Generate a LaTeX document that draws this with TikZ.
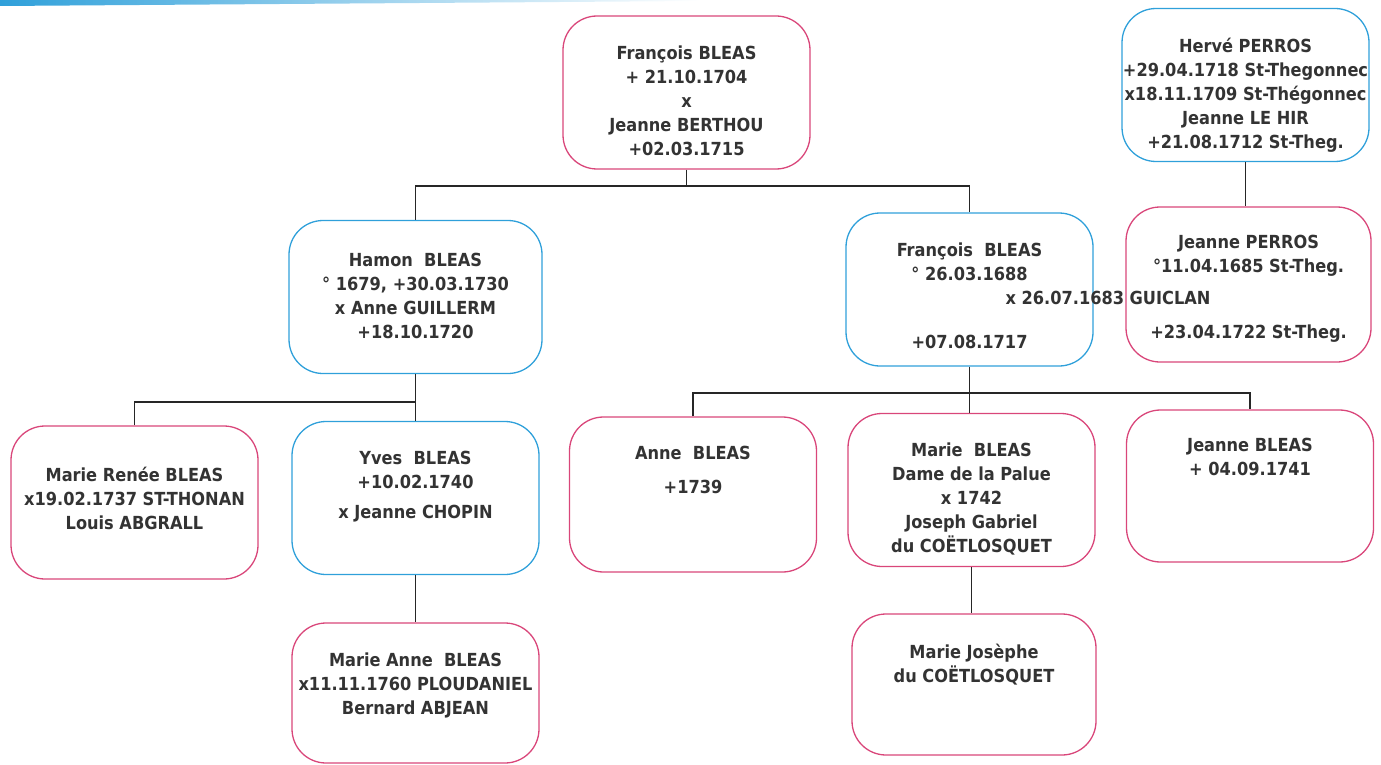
\documentclass[tikz,border=0pt]{standalone}
\usepackage{fontspec}
\setmainfont{DejaVu Sans Condensed}
\usepackage{xcolor}
\definecolor{pinkline}{HTML}{D9467A}
\definecolor{blueline}{HTML}{2FA0DA}
\definecolor{textgrey}{HTML}{333333}

\tikzset{
  person/.style = {draw, rectangle, rounded corners = 34pt, line width = 1.3pt, minimum width = 247pt, minimum height = 153pt},
  female/.style = {person, draw = pinkline},
  male/.style = {person, draw = blueline},
  names/.style = {anchor = north, align = center, inner sep = 0pt, font = \bfseries\fontsize{18}{24}\selectfont, text = textgrey},
  link/.style = {line width = 1.8pt, black!85}
}

\begin{document}
\begin{tikzpicture}

        \useasboundingbox (0pt, 0pt) rectangle (1381pt, -765pt);
        \shade [left color = blueline, right color = white] (0pt, 0pt) -- (700pt, 0pt) -- (700pt, -1pt) -- (0pt, -6pt) -- cycle;

        % Boxes
        \node [female] (top) at (686.5pt, -92.5pt) {};
        \node [male] (herve) at (1245.5pt, -85pt) {};
        \node [male, minimum width = 253pt] (hamon) at (415.5pt, -297pt) {};
        \node [male] (fr2) at (969.5pt, -289.5pt) {};
        \node [female, minimum width = 245pt, minimum height = 155pt] (jpe) at (1248.5pt, -284.5pt) {};
        \node [female] (mren) at (134.5pt, -502.5pt) {};
        \node [male] (yves) at (415.5pt, -498pt) {};
        \node [female, minimum height = 155pt] (anne) at (693pt, -494.5pt) {};
        \node [female] (marie) at (971.5pt, -490pt) {};
        \node [female, minimum height = 152pt] (jbl) at (1250pt, -486pt) {};
        \node [female, minimum height = 140pt] (manne) at (415.5pt, -693pt) {};
        \node [female, minimum width = 244pt, minimum height = 141pt] (mjos) at (974pt, -684.5pt) {};

        % Names
        \node [names] (topname) at ([yshift = -30pt]top.north) {François BLEAS\\+ 21.10.1704\\x\\Jeanne BERTHOU\\+02.03.1715};
        \node [names] (hervename) at ([yshift = -30pt]herve.north) {Hervé PERROS\\+29.04.1718 St-Thegonnec\\x18.11.1709 St-Thégonnec\\Jeanne LE HIR\\+21.08.1712 St-Theg.};
        \node [names] (hamonname) at ([yshift = -33pt]hamon.north) {Hamon\ \ BLEAS\\° 1679, +30.03.1730\\x Anne GUILLERM\\+18.10.1720};
        \node [names] (fr2name) at ([yshift = -30pt]fr2.north) {François\ \ BLEAS\\° 26.03.1688\\[44pt]+07.08.1717};
        \node [names] (jpename) at ([yshift = -29pt]jpe.north) {Jeanne PERROS\\°11.04.1685 St-Theg.\\[42pt]+23.04.1722 St-Theg.};
        \node [names] (mrenname) at ([yshift = -42pt]mren.north) {Marie Renée BLEAS\\x19.02.1737 ST-THONAN\\Louis ABGRALL};
        \node [names] (yvesname) at ([yshift = -30pt]yves.north) {Yves\ \ BLEAS\\+10.02.1740\\[6pt]x Jeanne CHOPIN};
        \node [names] (annename) at ([yshift = -30pt]anne.north) {Anne\ \ BLEAS\\[10pt]+1739};
        \node [names] (mariename) at ([yshift = -30pt]marie.north) {Marie\ \ BLEAS\\Dame de la Palue\\x 1742\\Joseph Gabriel\\du COËTLOSQUET};
        \node [names] (jblname) at ([yshift = -29pt]jbl.north) {Jeanne BLEAS\\+ 04.09.1741};
        \node [names] (mannename) at ([yshift = -30pt]manne.north) {Marie Anne\ \ BLEAS\\x11.11.1760 PLOUDANIEL\\Bernard ABJEAN};
        \node [names] (mjosname) at ([yshift = -31pt]mjos.north) {Marie Josèphe\\du COËTLOSQUET};
        \node [names, anchor = center] (guiclan) at (1108pt, -298pt) {x 26.07.1683 GUICLAN};

        % Links
        \draw [link] (top.south) -- ++(0pt, -16pt);
        \draw [link] (hamon.north) |- ([yshift = -16pt]top.south) -| (fr2.north);
        \draw [link] (herve.south) -- (herve.south |- jpe.north);
        \draw [link] (hamon.south) -- ++(0pt, -28pt);
        \draw [link] (mren.north) |- ([yshift = -28pt]hamon.south) -| (yves.north);
        \draw [link] (fr2.south) -- (fr2.south |- marie.north);
        \draw [link] (anne.north) |- ([yshift = -26pt]fr2.south) -| (jbl.north);
        \draw [link] (yves.south) -- (yves.south |- manne.north);
        \draw [link] (marie.south) -- (marie.south |- mjos.north);

\end{tikzpicture}
\end{document}
